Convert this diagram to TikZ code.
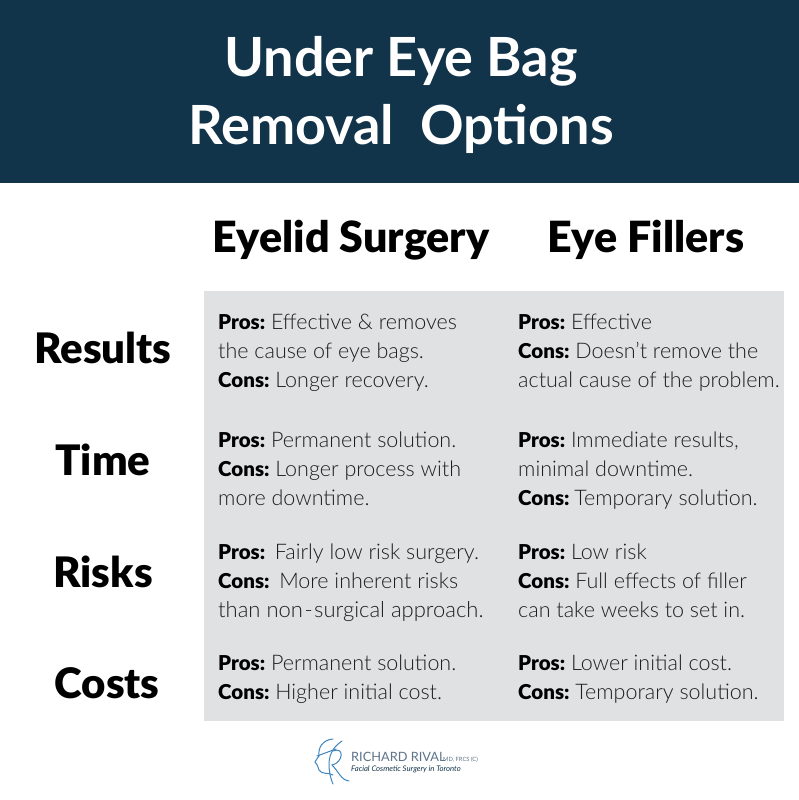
\documentclass[tikz,border=0pt]{standalone}
\usepackage{fontspec}
\setmainfont{Lato Light}[BoldFont=Lato Black]
\newfontfamily\heavy{Lato Black}
\newfontfamily\reg{Lato}
\definecolor{navy}{HTML}{12344A}
\definecolor{panel}{HTML}{E0E1E3}
\definecolor{ink}{HTML}{1E1E1E}
\definecolor{logoblue}{HTML}{3F86BE}
\definecolor{logotext}{HTML}{5F7488}
\tikzset{
 title/.style={text=white,font=\reg\bfseries\fontsize{54}{54}\selectfont,anchor=center,inner sep=0},
 head/.style={text=black,font=\heavy\fontsize{43}{43}\selectfont,anchor=center,inner sep=0},
 rowh/.style={text=black,font=\heavy\fontsize{42}{42}\selectfont,anchor=center,inner sep=0},
 cell/.style={text=ink,font=\fontsize{21.5}{24}\selectfont,anchor=base west,inner sep=0},
 logoline/.style={draw=logoblue,line width=1pt,line cap=round},
}
\newcommand{\bb}[1]{{\fontsize{20.5}{24}\selectfont\textbf{\textcolor{black}{#1}}}\hspace{-2pt}}
\begin{document}
\begin{tikzpicture}[x=1pt,y=-1pt]
\useasboundingbox (0,0) rectangle (799,800);
\fill[white] (0,0) rectangle (799,800);
\fill[navy] (0,0) rectangle (799,183);
\fill[panel] (204,291) rectangle (784,721);
\node[title] (t1) at (401,61) {Under Eye Bag};
\node[title] (t2) at (401,129) {Removal\ \ Options};
\node[head] (h1) at (351,240) {Eyelid Surgery};
\node[head] (h2) at (646,240) {Eye Fillers};
\node[rowh] (r1) at (103,348) {Results};
\node[rowh] (r2) at (103,460) {Time};
\node[rowh] (r3) at (103,572) {Risks};
\node[rowh] (r4) at (107,683) {Costs};
\node[cell] (a1) at (218,329) {\bb{Pros:} Effective \& removes};
\node[cell] (a2) at (218,358) {the cause of eye bags.};
\node[cell] (a3) at (218,387) {\bb{Cons:} Longer recovery.};
\node[cell] (a4) at (218,447) {\bb{Pros:} Permanent solution.};
\node[cell] (a5) at (218,476) {\bb{Cons:} Longer process with};
\node[cell] (a6) at (218,505) {more downtime.};
\node[cell] (a7) at (218,559) {\bb{Pros:}\ \ Fairly low risk surgery.};
\node[cell] (a8) at (218,588) {\bb{Cons:}\ \ More inherent risks};
\node[cell,font=\fontsize{22}{24}\selectfont] (a9) at (218,617) {than non\hspace{1.5pt}-\hspace{1.5pt}surgical approach.};
\node[cell] (a10) at (218,670) {\bb{Pros:} Permanent solution.};
\node[cell] (a11) at (218,699) {\bb{Cons:} Higher initial cost.};
\node[cell] (b1) at (518,329) {\bb{Pros:}\ \hspace{2pt}Effective};
\node[cell] (b2) at (518,358) {\bb{Cons:} Doesn’t remove the};
\node[cell] (b3) at (518,387) {actual cause of the problem.};
\node[cell] (b4) at (518,447) {\bb{Pros:} Immediate results,};
\node[cell] (b5) at (518,476) {minimal downtime.};
\node[cell] (b6) at (518,505) {\bb{Cons:}\hspace{-1pt} Temporary solution.};
\node[cell] (b7) at (518,559) {\bb{Pros:} Low risk};
\node[cell] (b8) at (518,588) {\bb{Cons:} Full effects of filler};
\node[cell] (b9) at (518,617) {can take weeks to set in.};
\node[cell] (b10) at (518,670) {\bb{Pros:} Lower initial cost.};
\node[cell] (b11) at (518,699) {\bb{Cons:} Temporary solution.};
% logo
\draw[logoline] (333,739) .. controls (322,740) and (318,748) .. (319,756) .. controls (316,760) and (315,762) .. (315,762) .. controls (318,765) and (318,768) .. (319,770) .. controls (322,775) and (328,772) .. (333,775);
\draw[logoline] (317,756) -- (336,749);
\draw[logoline] (342,741) .. controls (336,745) and (329,752) .. (329,764) .. controls (329,772) and (331,780) .. (333,784);
\draw[logoline] (333,751) .. controls (345,746) and (343,763) .. (332,765) .. controls (339,772) and (341,780) .. (349,781);
\node[inner sep=0,anchor=base west,text=logotext,font=\reg\fontsize{12.8}{12.8}\selectfont] (l1) at (351,761) {RICHARD RIVAL};
\node[inner sep=0,anchor=base west,text=logotext,font=\reg\fontsize{5.8}{5.8}\selectfont] (l2) at (443,761) {MD, FRCS (C)};
\node[inner sep=0,anchor=base west,text=navy,font=\reg\itshape\fontsize{7.7}{7.7}\selectfont] (l3) at (351,771) {Facial Cosmetic Surgery in Toronto};
\end{tikzpicture}
\end{document}
